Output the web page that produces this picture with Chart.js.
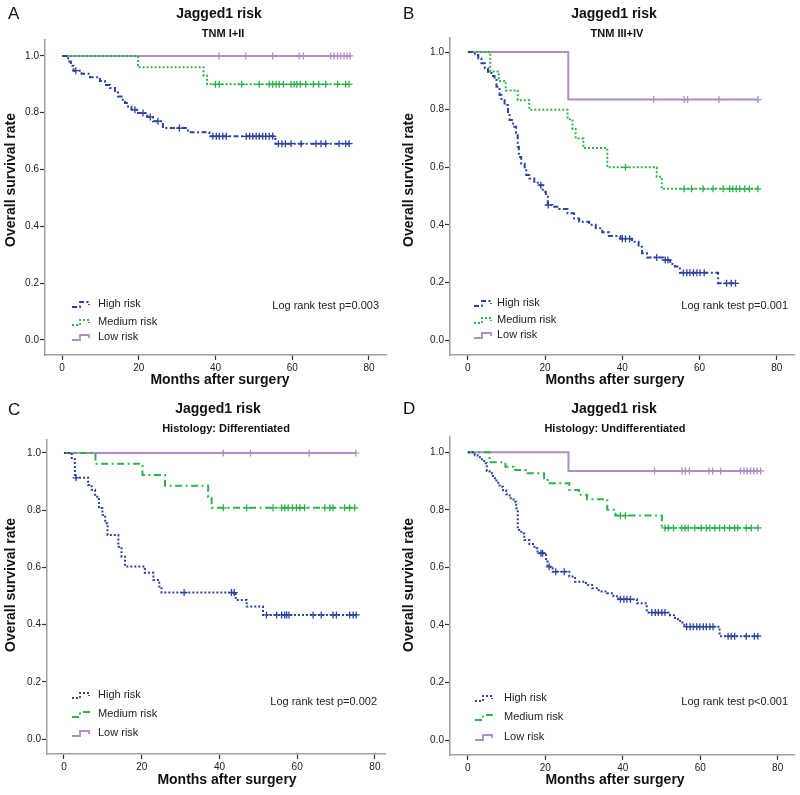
<!DOCTYPE html>
<html>
<head>
<meta charset="utf-8">
<script src="https://cdn.jsdelivr.net/npm/chart.js@4.4.1/dist/chart.umd.min.js"></script>
<style>
  body { margin: 0; background: #fff; }
  #wrap { position: relative; width: 800px; height: 795px; }
  canvas { position: absolute; }
</style>
</head>
<body>
<div id="wrap">
  <canvas id="chartA" width="400" height="398" style="left:0;top:0"></canvas>
  <canvas id="chartB" width="400" height="398" style="left:400px;top:0"></canvas>
  <canvas id="chartC" width="400" height="397" style="left:0;top:398px"></canvas>
  <canvas id="chartD" width="400" height="397" style="left:400px;top:398px"></canvas>
</div>
<script>
// Axis ticks
var xTicks = [0, 20, 40, 60, 80];
var yTicks = [0, 0.2, 0.4, 0.6, 0.8, 1.0];
var riskLabels = ["High risk", "Medium risk", "Low risk"];

// A - TNM I+II
var aHighTime = [0, 1.6, 2.3, 3.0, 5.1, 7.3, 9.9, 11.2, 12.5, 13.8, 14.6, 15.5, 16.4, 17.2, 18.1, 19.8, 22.2, 23.7, 26.3, 32.8, 38.4, 55.6, 75];
var aHighSurv = [1, 0.98, 0.965, 0.948, 0.937, 0.925, 0.912, 0.898, 0.887, 0.871, 0.857, 0.846, 0.834, 0.822, 0.81, 0.799, 0.785, 0.77, 0.746, 0.731, 0.717, 0.691, 0.691];
var aHighCens = [3.6, 19.0, 21.1, 23.0, 25.0, 30.6, 39.3, 40.2, 41.0, 41.9, 42.8, 48.0, 48.9, 49.7, 50.6, 51.4, 52.3, 53.1, 54.0, 54.9, 56.4, 57.3, 58.2, 59.7, 62.3, 66.2, 67.5, 68.7, 72.2, 73.9, 74.8];
var aMedTime = [0, 19.8, 36.9, 37.8, 75];
var aMedSurv = [1, 0.96, 0.93, 0.90, 0.90];
var aMedCens = [40.0, 41.0, 46.8, 51.4, 54.0, 54.9, 55.8, 56.6, 57.7, 59.7, 60.5, 61.2, 62.1, 63.5, 65.5, 66.9, 68.7, 71.8, 73.9, 74.8];
var aLowTime = [0, 75.3];
var aLowSurv = [1, 1];
var aLowCens = [40.9, 47.9, 54.9, 61.8, 62.9, 70.0, 70.9, 71.8, 72.6, 73.5, 74.3, 75.0];

// B - TNM III+IV
var bHighTime = [0, 1.8, 2.7, 3.5, 4.4, 5.2, 6.1, 6.9, 7.4, 8.2, 8.7, 9.5, 10.4, 10.8, 11.7, 12.5, 12.9, 13.2, 13.8, 14.7, 15.1, 15.9, 17.2, 18.1, 19.4, 20.2, 20.7, 21.9, 23.7, 25.8, 27.5, 28.8, 31.4, 33.1, 34.8, 36.5, 39.5, 42.5, 44.2, 45.1, 46.4, 50.6, 52.4, 53.6, 54.9, 64.8, 69.5];
var bHighSurv = [1, 0.99, 0.978, 0.961, 0.944, 0.932, 0.917, 0.903, 0.88, 0.851, 0.833, 0.816, 0.787, 0.764, 0.741, 0.718, 0.671, 0.636, 0.613, 0.596, 0.573, 0.561, 0.55, 0.538, 0.515, 0.498, 0.469, 0.463, 0.455, 0.44, 0.422, 0.411, 0.40, 0.388, 0.374, 0.361, 0.352, 0.341, 0.324, 0.301, 0.287, 0.278, 0.264, 0.255, 0.234, 0.197, 0.197];
var bHighCens = [18.9, 20.8, 40.0, 40.8, 41.9, 48.9, 51.1, 51.8, 55.8, 56.7, 57.5, 58.4, 59.3, 60.1, 61.2, 67.0, 68.2, 69.3];
var bMedTime = [0, 5.8, 8.0, 9.8, 12.9, 15.9, 25.8, 27.1, 27.9, 29.9, 36.1, 48.9, 50.2, 75.1];
var bMedSurv = [1, 0.933, 0.9, 0.867, 0.833, 0.8, 0.767, 0.733, 0.7, 0.667, 0.6, 0.567, 0.525, 0.525];
var bMedCens = [40.8, 56.0, 57.9, 60.9, 63.5, 66.1, 67.8, 68.6, 69.5, 70.4, 71.7, 72.9, 75.1];
var bLowTime = [0, 26.0, 75.1];
var bLowSurv = [1, 0.835, 0.835];
var bLowCens = [48.1, 56.0, 56.9, 65.0, 75.1];

// C - Histology: Differentiated
var cHighTime = [0, 2.0, 2.8, 6.2, 7.1, 8.0, 9.0, 9.9, 10.6, 11.2, 14.0, 14.8, 15.7, 20.8, 23.0, 24.5, 25.1, 44.2, 47.0, 51.2, 75.2];
var cHighSurv = [1, 0.978, 0.913, 0.888, 0.871, 0.847, 0.807, 0.783, 0.754, 0.713, 0.672, 0.637, 0.603, 0.581, 0.556, 0.533, 0.512, 0.486, 0.463, 0.434, 0.434];
var cHighCens = [3.1, 30.9, 43.1, 43.8, 52.1, 54.7, 56.0, 56.8, 57.3, 57.9, 64.1, 66.2, 69.2, 70.1, 73.5, 74.4, 75.2];
var cMedTime = [0, 8.1, 20.2, 26.0, 37.1, 38.0, 75.2];
var cMedSurv = [1, 0.962, 0.923, 0.885, 0.846, 0.808, 0.808];
var cMedCens = [41.0, 47.0, 53.8, 56.0, 56.8, 57.7, 58.8, 59.8, 60.7, 61.9, 67.1, 68.4, 69.2, 72.2, 73.5, 74.8];
var cLowTime = [0, 75.1];
var cLowSurv = [1, 1];
var cLowCens = [41.0, 48.0, 63.1, 75.1];

// D - Histology: Undifferentiated
var dHighTime = [0, 1.8, 2.5, 3.1, 3.9, 4.6, 4.9, 5.6, 6.5, 7.4, 8.2, 9.1, 9.9, 10.8, 11.8, 12.5, 12.9, 13.8, 14.6, 15.9, 17.2, 18.0, 20.2, 20.6, 21.9, 26.2, 27.7, 30.5, 32.1, 33.8, 35.9, 37.6, 38.9, 43.7, 46.2, 52.2, 53.5, 54.8, 55.9, 65.0, 75.2];
var dHighSurv = [1, 0.99, 0.983, 0.976, 0.97, 0.962, 0.935, 0.927, 0.91, 0.894, 0.88, 0.867, 0.854, 0.84, 0.828, 0.805, 0.73, 0.718, 0.695, 0.681, 0.666, 0.649, 0.62, 0.602, 0.585, 0.568, 0.55, 0.539, 0.527, 0.516, 0.51, 0.50, 0.489, 0.475, 0.443, 0.434, 0.42, 0.408, 0.394, 0.361, 0.361];
var dHighCens = [18.9, 19.3, 21.0, 22.7, 24.9, 39.4, 40.3, 41.1, 42.0, 47.5, 48.4, 49.2, 50.1, 50.9, 56.5, 57.4, 58.2, 59.1, 59.9, 60.8, 61.6, 62.5, 63.3, 67.2, 68.0, 68.9, 71.9, 74.0, 74.9];
var dMedTime = [0, 5.6, 9.7, 11.8, 15.0, 19.7, 20.6, 26.2, 28.7, 30.8, 36.0, 38.1, 50.1, 75.6];
var dMedSurv = [1, 0.965, 0.95, 0.938, 0.927, 0.91, 0.892, 0.869, 0.852, 0.837, 0.80, 0.78, 0.737, 0.737];
var dMedCens = [39.4, 40.7, 50.9, 51.8, 53.1, 55.2, 56.1, 56.9, 58.6, 60.3, 61.6, 62.5, 63.8, 65.0, 66.3, 67.6, 68.9, 69.7, 71.9, 73.2, 74.9];
var dLowTime = [0, 26.0, 75.6];
var dLowSurv = [1, 0.935, 0.935];
var dLowCens = [48.2, 55.3, 56.2, 57.2, 62.3, 63.2, 65.3, 70.4, 71.3, 72.1, 73.0, 73.8, 74.7, 75.6];

// Colours
var colHigh = "#2b42a3";
var colMed = "#2eb34a";
var colLow = "#b08dc8";
var dashDot = [5, 2.5, 2, 2.5];
var dotted = [2, 2];
var longDashDot = [7, 3.5, 2, 3.5];

// survival value at time t (step function)
function survAt(times, surv, t) {
  var s = surv[0];
  for (var i = 0; i < times.length; i++) {
    if (times[i] <= t) s = surv[i];
  }
  return s;
}

function curve(label, times, surv, color, dash) {
  return {
    label: label,
    data: times.map(function (t, i) { return { x: t, y: surv[i] }; }),
    borderColor: color,
    borderWidth: 2,
    borderDash: dash,
    stepped: true,
    pointRadius: 0,
    fill: false
  };
}

function censors(times, surv, cens, color) {
  return {
    label: "cens",
    data: cens.map(function (t) { return { x: t, y: survAt(times, surv, t) }; }),
    showLine: false,
    pointStyle: "cross",
    pointRadius: 3.5,
    pointBorderWidth: 1.3,
    borderColor: color,
    backgroundColor: color
  };
}

// Text, legend and labels drawn on top
var textPlugin = {
  id: "kmText",
  afterDraw: function (chart) {
    var p = chart.options.plugins.kmText;
    var ctx = chart.ctx;
    ctx.save();
    ctx.fillStyle = "#111";
    ctx.textBaseline = "middle";
    ctx.font = "17px 'Liberation Sans', Arial, sans-serif";
    ctx.textAlign = "left";
    ctx.fillText(p.letter, p.letterX, p.letterY);
    ctx.textAlign = "center";
    ctx.font = "bold 14px 'Liberation Sans', Arial, sans-serif";
    ctx.fillText("Jagged1 risk", p.titleX, p.titleY);
    ctx.font = "bold 11px 'Liberation Sans', Arial, sans-serif";
    ctx.fillText(p.sub, p.subX, p.subY);
    ctx.font = "bold 14px 'Liberation Sans', Arial, sans-serif";
    ctx.fillText("Months after surgery", p.xTitleX, p.xTitleY);
    ctx.save();
    ctx.translate(p.yTitleX, p.yTitleY);
    ctx.rotate(-Math.PI / 2);
    ctx.fillText("Overall survival rate", 0, 0);
    ctx.restore();

    // log rank
    ctx.font = "11px 'Liberation Sans', Arial, sans-serif";
    ctx.textAlign = "right";
    ctx.fillStyle = "#222";
    ctx.fillText(p.logRank, p.logX, p.logY);

    // legend
    ctx.textAlign = "left";
    for (var i = 0; i < 3; i++) {
      var ds = chart.data.datasets[i];
      var y = p.legY[i];
      var x = p.iconX;
      ctx.strokeStyle = ds.borderColor;
      ctx.lineWidth = 1.8;
      ctx.setLineDash(ds.borderDash || []);
      ctx.beginPath();
      ctx.moveTo(x, y + 3);
      ctx.lineTo(x + 8, y + 3);
      ctx.lineTo(x + 8, y - 2);
      ctx.lineTo(x + 17, y - 2);
      ctx.lineTo(x + 17, y + 1);
      ctx.stroke();
      ctx.setLineDash([]);
      ctx.fillText(riskLabels[i], p.textX, y);
    }
    ctx.restore();
  }
};

function makeChart(id, sets, area, range, text) {
  var canvas = document.getElementById(id);
  var H = canvas.height;
  var W = canvas.width;
  return new Chart(canvas, {
    type: "line",
    data: {
      datasets: [
        curve(riskLabels[0], sets[0], sets[1], colHigh, sets[9]),
        curve(riskLabels[1], sets[3], sets[4], colMed, sets[10]),
        curve(riskLabels[2], sets[6], sets[7], colLow, []),
        censors(sets[0], sets[1], sets[2], colHigh),
        censors(sets[3], sets[4], sets[5], colMed),
        censors(sets[6], sets[7], sets[8], colLow)
      ]
    },
    options: {
      responsive: false,
      animation: false,
      layout: { padding: { left: 0, top: area.top, right: W - area.right, bottom: 0 } },
      plugins: {
        legend: { display: false },
        title: { display: false },
        tooltip: { enabled: false },
        kmText: text
      },
      scales: {
        x: {
          type: "linear",
          min: range.xMin,
          max: range.xMax,
          afterFit: function (s) { s.height = H - area.bottom; },
          afterBuildTicks: function (s) { s.ticks = xTicks.map(function (v) { return { value: v }; }); },
          grid: { drawOnChartArea: false, tickLength: 5, tickColor: "#333", tickWidth: 1.2 },
          border: { color: "#a0a0a0", width: 1.5 },
          ticks: { color: "#222", padding: 2, font: { size: 10, family: "'Liberation Sans', Arial, sans-serif" } }
        },
        y: {
          type: "linear",
          min: range.yMin,
          max: range.yMax,
          afterFit: function (s) { s.width = area.left; },
          afterBuildTicks: function (s) { s.ticks = yTicks.map(function (v) { return { value: v }; }); },
          grid: { drawOnChartArea: false, tickLength: 5, tickColor: "#333", tickWidth: 1.2 },
          border: { color: "#a0a0a0", width: 1.5 },
          ticks: {
            color: "#222", padding: 1,
            font: { size: 10, family: "'Liberation Sans', Arial, sans-serif" },
            callback: function (v) { return Number(v).toFixed(1); }
          }
        }
      }
    },
    plugins: [textPlugin]
  });
}

makeChart("chartA",
  [aHighTime, aHighSurv, aHighCens, aMedTime, aMedSurv, aMedCens, aLowTime, aLowSurv, aLowCens, dashDot, dotted],
  { left: 45, right: 386, top: 40, bottom: 355 },
  { xMin: -4.43, xMax: 84.43, yMin: -0.053, yMax: 1.056 },
  { letter: "A", letterX: 8, letterY: 14, sub: "TNM I+II", titleX: 219, titleY: 14, subX: 223, subY: 34,
    yTitleX: 11, yTitleY: 180, xTitleX: 220, xTitleY: 380, iconX: 72, textX: 98, legY: [304, 322, 337],
    logRank: "Log rank test p=0.003", logX: 379, logY: 306 });

makeChart("chartB",
  [bHighTime, bHighSurv, bHighCens, bMedTime, bMedSurv, bMedCens, bLowTime, bLowSurv, bLowCens, dashDot, dotted],
  { left: 50, right: 397, top: 38, bottom: 355 },
  { xMin: -4.63, xMax: 84.63, yMin: -0.052, yMax: 1.049 },
  { letter: "B", letterX: 3, letterY: 14, sub: "TNM III+IV", titleX: 214, titleY: 14, subX: 217, subY: 34,
    yTitleX: 9, yTitleY: 180, xTitleX: 215, xTitleY: 380, iconX: 74, textX: 97, legY: [303, 320, 335],
    logRank: "Log rank test p=0.001", logX: 388, logY: 306 });

makeChart("chartC",
  [cHighTime, cHighSurv, cHighCens, cMedTime, cMedSurv, cMedCens, cLowTime, cLowSurv, cLowCens, dotted, longDashDot],
  { left: 47, right: 385, top: 42, bottom: 356 },
  { xMin: -4.37, xMax: 82.6, yMin: -0.052, yMax: 1.045 },
  { letter: "C", letterX: 8, letterY: 12, sub: "Histology: Differentiated", titleX: 218, titleY: 11, subX: 226, subY: 31,
    yTitleX: 11, yTitleY: 187, xTitleX: 227, xTitleY: 382, iconX: 72, textX: 98, legY: [297, 316, 335],
    logRank: "Log rank test p=0.002", logX: 377, logY: 304 });

makeChart("chartD",
  [dHighTime, dHighSurv, dHighCens, dMedTime, dMedSurv, dMedCens, dLowTime, dLowSurv, dLowCens, dotted, longDashDot],
  { left: 50, right: 397, top: 39, bottom: 357 },
  { xMin: -4.6, xMax: 84.4, yMin: -0.052, yMax: 1.053 },
  { letter: "D", letterX: 3, letterY: 11, sub: "Histology: Undifferentiated", titleX: 214, titleY: 11, subX: 215, subY: 31,
    yTitleX: 9, yTitleY: 187, xTitleX: 215, xTitleY: 382, iconX: 75, textX: 104, legY: [300, 319, 339],
    logRank: "Log rank test p<0.001", logX: 388, logY: 304 });
</script>
</body>
</html>
